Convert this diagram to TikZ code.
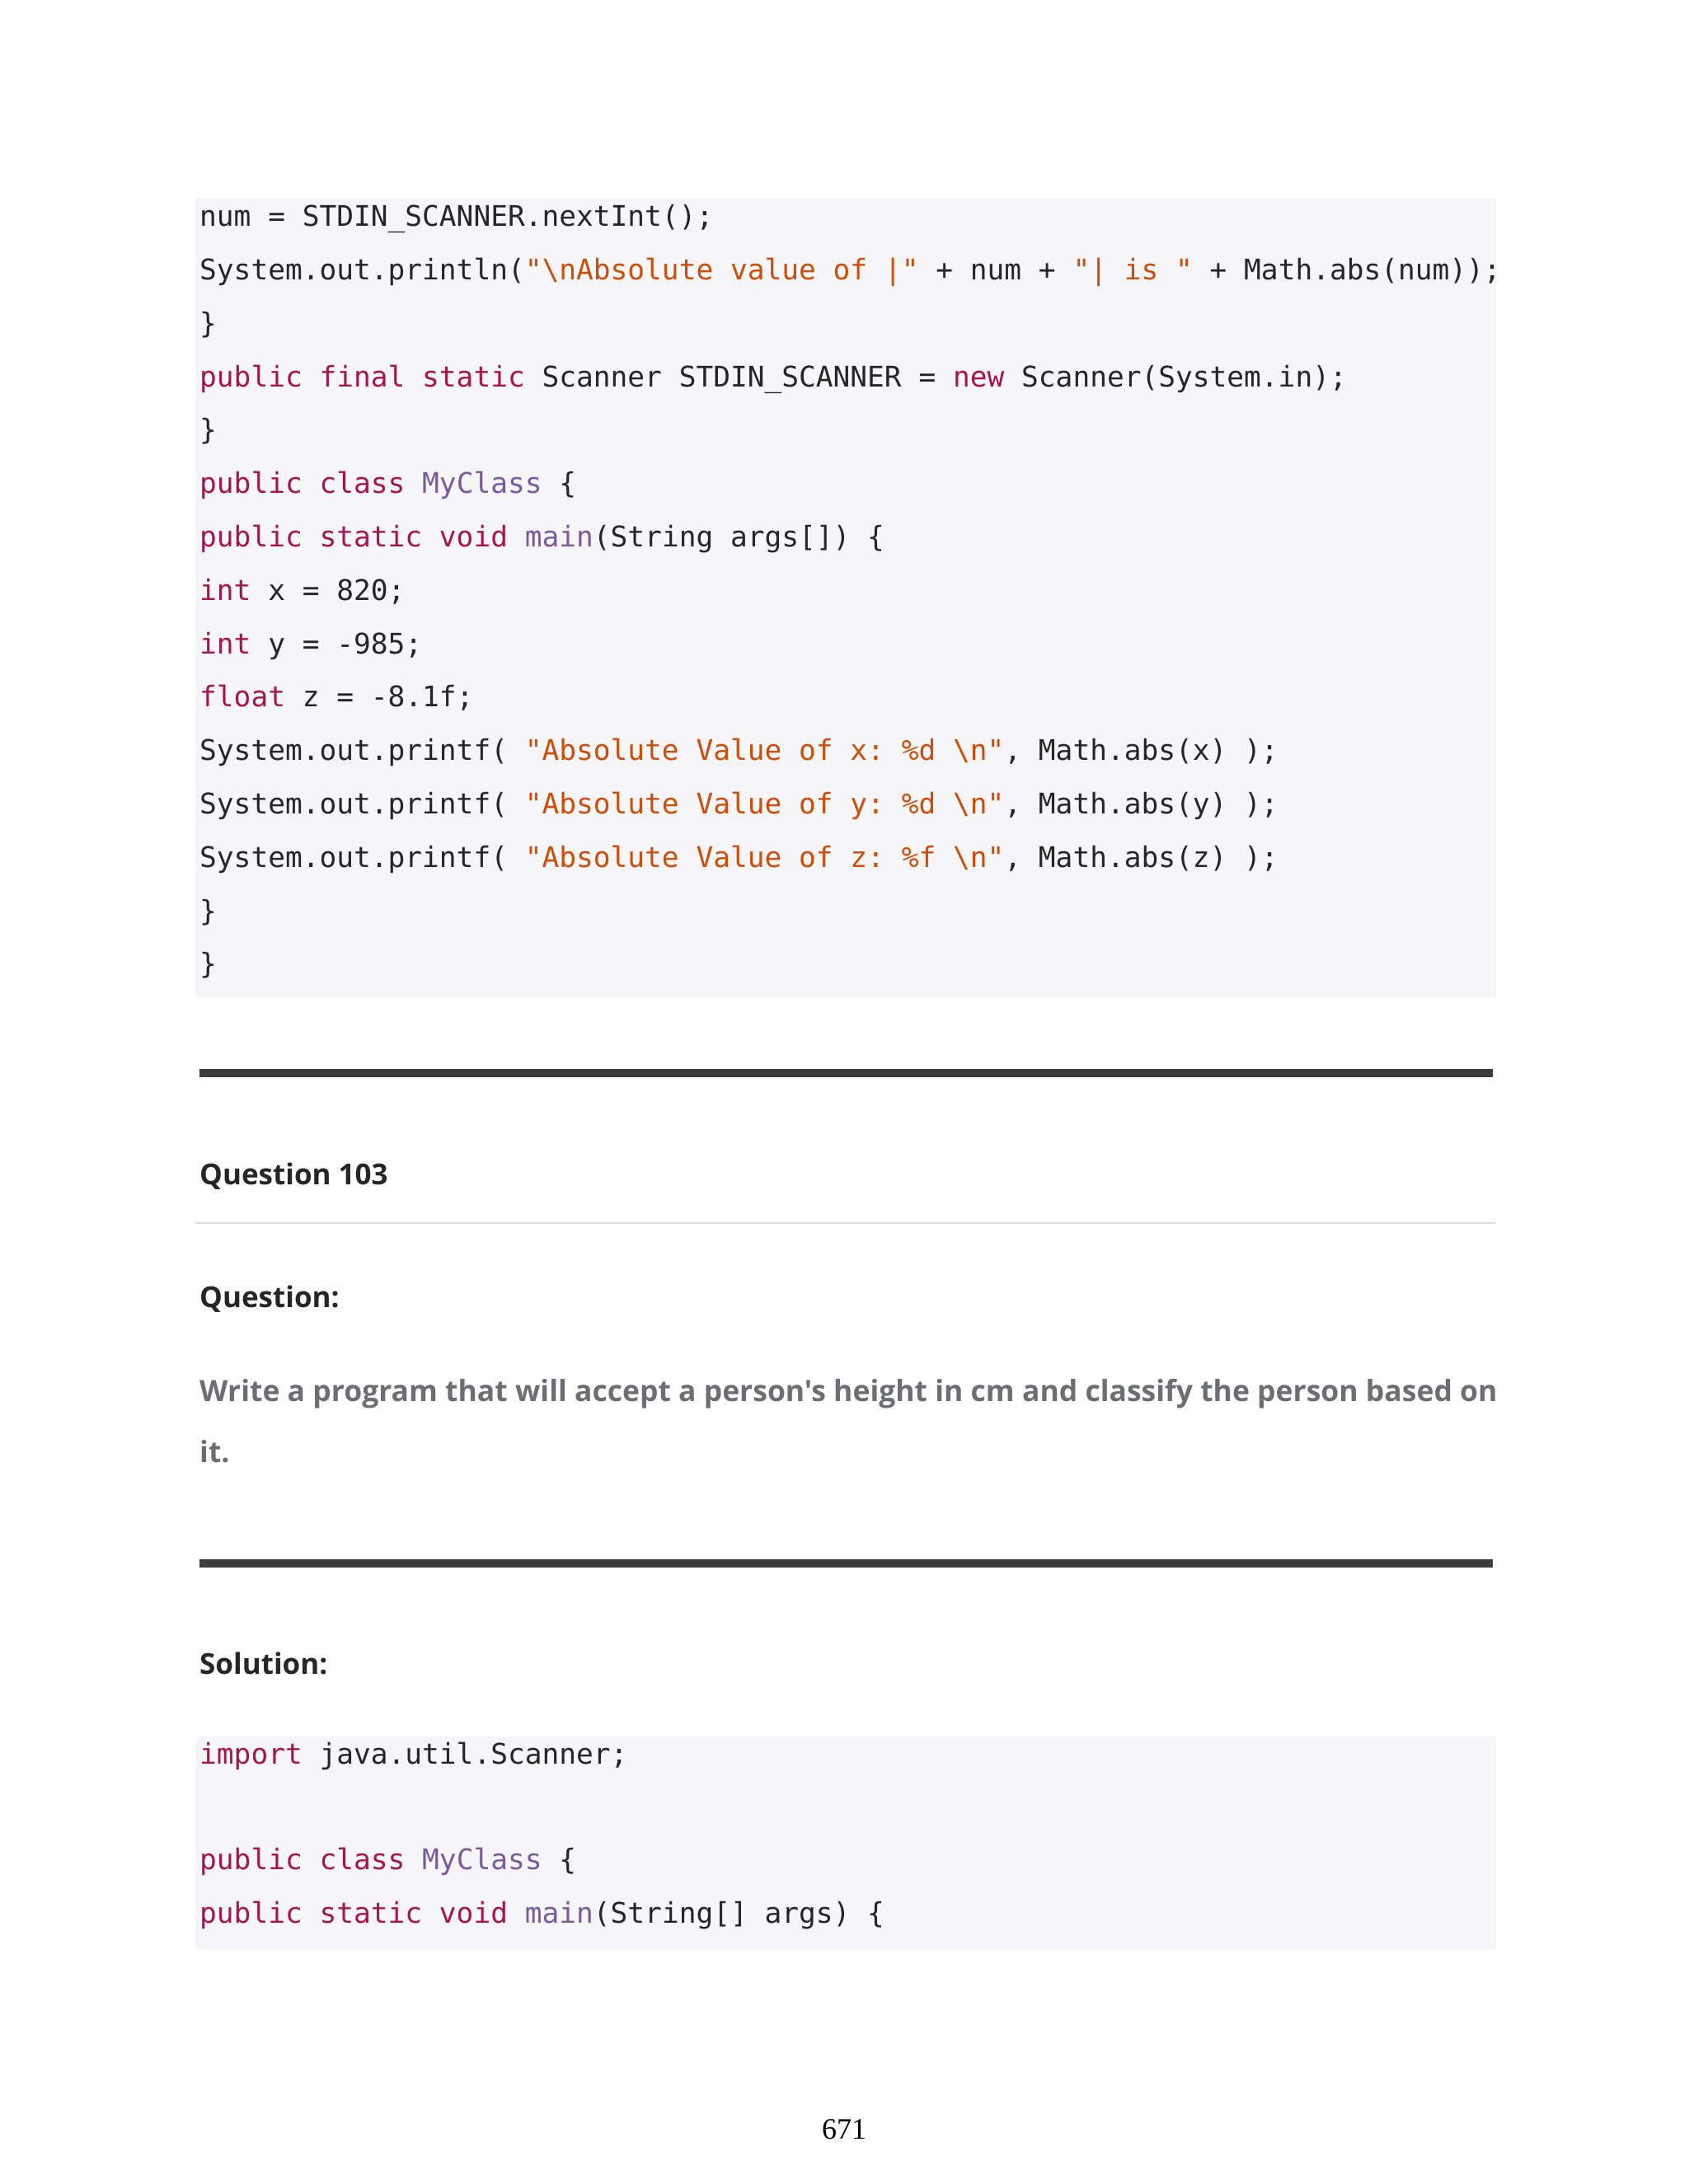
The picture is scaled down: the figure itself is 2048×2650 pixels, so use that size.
\documentclass[tikz,border=0pt]{standalone}
\usepackage{fontspec}
\setmainfont{Liberation Serif}
\setmonofont{DejaVu Sans Mono}
\newfontfamily\hd{Open Sans}
\definecolor{kwc}{HTML}{A5164F}
\definecolor{stc}{HTML}{CC4E0A}
\definecolor{clc}{HTML}{7A5A9A}
\definecolor{txc}{HTML}{262626}
\definecolor{bgc}{HTML}{F6F6F8}
\definecolor{grc}{HTML}{6B6E73}
\newcommand{\kw}[1]{\textcolor{kwc}{#1}}
\newcommand{\stt}[1]{\textcolor{stc}{#1}}
\newcommand{\cl}[1]{\textcolor{clc}{#1}}
\newcommand{\bs}{\textbackslash}
\begin{document}
\begin{tikzpicture}[x=1pt,y=-1pt,
  code/.style={anchor=base west,inner sep=0pt,font=\fontsize{34.5}{40}\ttfamily,text=txc},
  head/.style={anchor=base west,inner sep=0pt,font=\fontsize{35}{40}\hd\bfseries,text=txc},
  para/.style={anchor=base west,inner sep=0pt,font=\fontsize{35.5}{40}\hd\bfseries,text=grc}]
\useasboundingbox (0,0) rectangle (2048,2650);
\fill[bgc] (237,240) rectangle (1815,1210);
\fill[bgc] (237,2107) rectangle (1815,2365);
\node[code] (l1) at (242,274) {num = STDIN\_SCANNER.nextInt();};
\node[code] (l2) at (242,339) {System.out.println(\stt{"\bs nAbsolute value of |"} + num + \stt{"| is "} + Math.abs(num));};
\node[code] (l3) at (242,404) {\}};
\node[code] (l4) at (242,469) {\kw{public final static} Scanner STDIN\_SCANNER = \kw{new} Scanner(System.in);};
\node[code] (l5) at (242,533) {\}};
\node[code] (l6) at (242,598) {\kw{public class} \cl{MyClass} \{};
\node[code] (l7) at (242,663) {\kw{public static void} \cl{main}(String args[]) \{};
\node[code] (l8) at (242,728) {\kw{int} x = 820;};
\node[code] (l9) at (242,793) {\kw{int} y = -985;};
\node[code] (l10) at (242,857) {\kw{float} z = -8.1f;};
\node[code] (l11) at (242,922) {System.out.printf( \stt{"Absolute Value of x: \%d \bs n"}, Math.abs(x) );};
\node[code] (l12) at (242,987) {System.out.printf( \stt{"Absolute Value of y: \%d \bs n"}, Math.abs(y) );};
\node[code] (l13) at (242,1052) {System.out.printf( \stt{"Absolute Value of z: \%f \bs n"}, Math.abs(z) );};
\node[code] (l14) at (242,1117) {\}};
\node[code] (l15) at (242,1181) {\}};
\fill[txc!90!white] (242,1297) rectangle (1811,1307);
\node[head] (q) at (242,1437) {Question 103};
\draw[black!12,line width=1.5pt] (237,1484) -- (1815,1484);
\node[head] (qq) at (242,1586) {Question:};
\node[para] (p1) at (242,1700) {Write a program that will accept a person's height in cm and classify the person based on};
\node[para] (p2) at (242,1774) {it.};
\fill[txc!90!white] (242,1892) rectangle (1811,1902);
\node[head] (s) at (242,2031) {Solution:};
\node[code] (m1) at (242,2140) {\kw{import} java.util.Scanner;};
\node[code] (m2) at (242,2268) {\kw{public class} \cl{MyClass} \{};
\node[code] (m3) at (242,2333) {\kw{public static void} \cl{main}(String[] args) \{};
\node[anchor=base,inner sep=0pt,font=\fontsize{36}{40}\selectfont] (pg) at (1024,2595) {671};
\end{tikzpicture}
\end{document}
